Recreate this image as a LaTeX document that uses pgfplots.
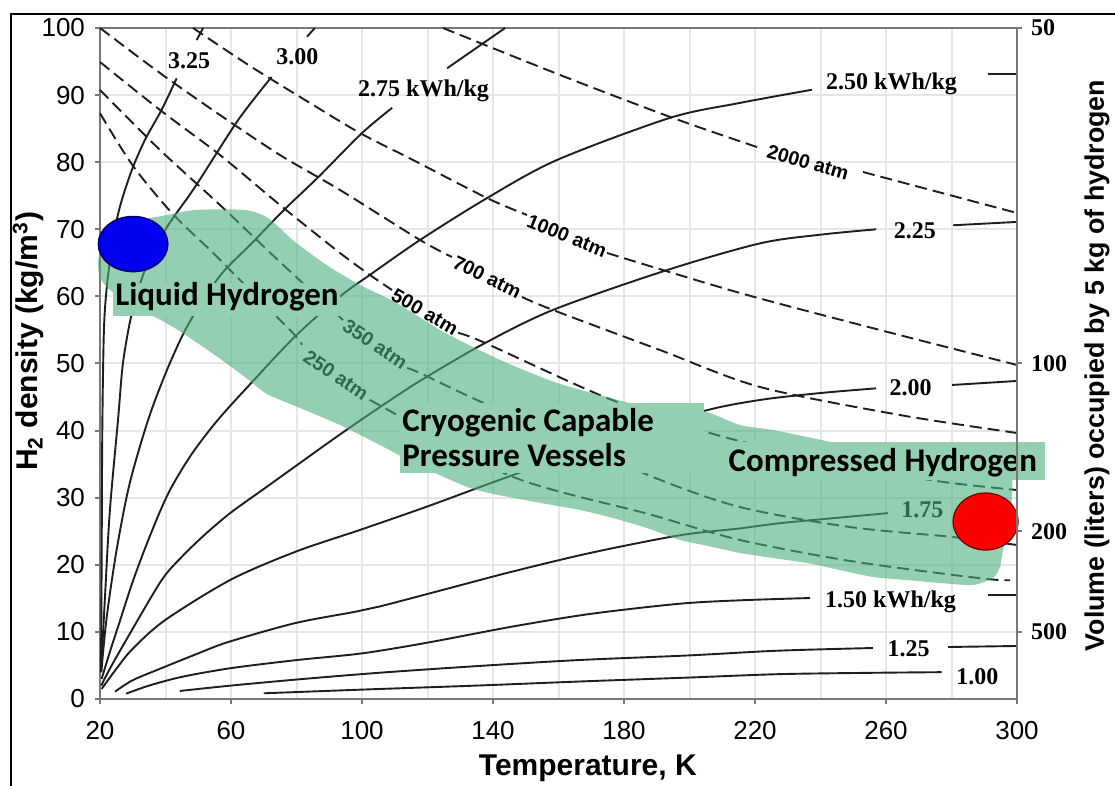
\documentclass[border=0pt]{standalone}
\usepackage{pgfplots}
\pgfplotsset{compat=1.18}
\usepackage{fontspec}
\setmainfont{Liberation Sans}
\newfontfamily\timesf{Liberation Serif}
\newfontfamily\calib{Carlito}
\definecolor{axgray}{RGB}{120,120,120}
\definecolor{gridgray}{RGB}{230,230,230}
\definecolor{curvec}{RGB}{30,30,30}
\definecolor{blobg}{RGB}{77,175,127}
\definecolor{boxg}{RGB}{148,207,178}
\definecolor{bluec}{RGB}{0,0,240}
\definecolor{redc}{RGB}{250,0,0}
\tikzset{
  sol/.style={draw=curvec, line width=0.95pt, smooth, tension=0.5},
  dsh/.style={sol, dash pattern=on 6pt off 3pt},
  kwh/.style={font=\timesf\bfseries\fontsize{12}{12}\selectfont, inner sep=0pt},
  atm/.style={font=\bfseries\fontsize{9.8}{9.8}\selectfont, inner sep=0pt},
  reg/.style={font=\calib\bfseries\fontsize{16.5}{16.5}\selectfont, inner sep=0pt},
}
\begin{document}
\begin{tikzpicture}
\path[use as bounding box] (0,0) rectangle (557.5pt,-393pt);
\fill[white] (0,0) rectangle (557.5pt,-393pt);
\draw[black,line width=1pt] (5.5pt,-393pt) -- (5.5pt,-7pt) -- (557.5pt,-7pt);
\begin{axis}[
  at={(50pt,-349.5pt)}, anchor=south west, scale only axis,
  width=458.5pt, height=335.5pt,
  xmin=20, xmax=300, ymin=0, ymax=100, clip=false,
  xtick={20,60,...,300}, minor xtick={40,80,...,280}, ytick={0,10,...,100},
  grid=both, major grid style={gridgray,line width=1pt}, minor grid style={gridgray,line width=1pt},
  tick align=outside, xtick pos=bottom, ytick pos=left,
  major tick length=2.5pt, minor tick length=0pt,
  axis line style={axgray,line width=1.2pt}, tick style={axgray,line width=1pt},
  /pgf/number format/assume math mode=true,
  ticklabel style={font=\fontsize{13}{13}\selectfont, black},
  xticklabel style={yshift=-5pt}, yticklabel style={xshift=-1.5pt},
]
% ---- energy isolines (solid) ----
% 3.25
\addplot[sol] coordinates {(20.3,4) (20.5,20) (20.7,40) (21.2,55) (22.2,62) (24,68.5) (26.1,73.4) (29.7,78.8) (33.7,83.3) (38.8,87.8) (43.4,92.5)};
\addplot[sol] coordinates {(49.5,98.2) (51.5,100)};
% 3.00
\addplot[sol] coordinates {(20.3,4) (21.5,15) (23,28) (25.5,41.6) (27,50) (29.5,57) (33,63) (37,67.5) (41.9,71.4) (49,76.3) (62.2,86.3) (72.4,92.7)};
\addplot[sol] coordinates {(83.2,98.7) (85.6,100)};
% 2.75
\addplot[sol] coordinates {(20.4,4) (22,12) (25,22) (29,32) (34.7,41.6) (40,48.5) (45,54) (49,57.5) (57,63.3) (66.3,67.9) (76,72.8) (86.7,77.8) (99.9,84.3) (109.2,88.1)};
\addplot[sol] coordinates {(126,94) (143.7,100)};
% 2.50
\addplot[sol] coordinates {(20.5,3) (23,7) (26,11.5) (30,17.5) (35,24) (40.9,30.7) (48,36.5) (56,41.6) (66,47) (79.5,54) (93.3,60) (102.4,63.2) (117.7,68.4) (138,74.6) (159.4,80.3) (194,86.6) (215,88.8) (237.4,90.8)};
\addplot[sol] coordinates {(291,93.1) (300,93.1)};
% 2.25
\addplot[sol] coordinates {(20.4,2) (23,4.5) (28.6,9.3) (38.8,17.7) (45,21.2) (52,24.5) (60,27.8) (70,31.3) (80,34.8) (90,38.3) (100,41.7) (111.6,45.5) (118.7,47.7) (137,52.9) (158.4,58) (193,63.9) (221.5,67.9) (240,69.2) (257,70.0)};
\addplot[sol] coordinates {(280.5,70.6) (300,71.1)};
% 2.00
\addplot[sol] coordinates {(20.5,1.5) (25,4.5) (30,7.5) (40,11.8) (60,17.8) (80,22) (100,25.3) (120,28.7) (140,32.3) (160,35.8) (180,39.2) (205,43.0) (222,44.6) (240,45.6) (257,46.3)};
\addplot[sol] coordinates {(280.2,46.8) (300,47.4)};
% 1.75
\addplot[sol] coordinates {(24.6,1.1) (30,2.8) (38.8,4.6) (50,6.8) (59.2,8.5) (79.5,11.3) (97.9,13.0) (105.5,13.8) (125,16.3) (146,19) (170,21.8) (197,24.4) (215,25.4) (227.6,26.2) (245,27) (260.6,27.7)};
% 1.50
\addplot[sol] coordinates {(28,0.8) (35,2.0) (45,3.3) (60,4.6) (80,5.8) (100,6.8) (120,8.4) (146,10.8) (170,12.7) (197,14.2) (215,14.7) (236.8,15.05)};
\addplot[sol] coordinates {(291.1,15.5) (300,15.5)};
% 1.25
\addplot[sol] coordinates {(44.4,1.2) (60,2.0) (80,2.9) (105,3.9) (135,4.9) (166,5.8) (200,6.5) (227,7.2) (256,7.6)};
\addplot[sol] coordinates {(279,7.75) (300,7.9)};
% 1.00
\addplot[sol] coordinates {(70,0.85) (100,1.4) (135,2.0) (166,2.6) (200,3.2) (227,3.7) (255,3.9) (277,4.0)};
% ---- isobars (dashed) ----
% 2000 atm
\addplot[dsh] coordinates {(124.73,100) (160.46,93.0) (194.96,86.59) (220.61,82.26)};
\addplot[dsh] coordinates {(252.98,78.54) (300,72.43)};
% 1000 atm
\addplot[dsh] coordinates {(48.4,100) (65.8,94.34) (84.12,88.82) (99.39,84.35) (115.57,80.33) (138.17,74.66) (150.38,72.13)};
\addplot[dsh] coordinates {(174.81,66.47) (215.42,60.51) (258.17,54.99) (300,49.78)};
% 700 atm
\addplot[dsh] coordinates {(20,100) (38.32,93.29) (56.64,87.03) (74.96,81.07) (93.28,75.86) (117.71,68.41) (127.48,65.87)};
\addplot[dsh] coordinates {(148.85,59.91) (158.32,57.97) (190.99,52.01) (221.53,46.5) (264.27,42.32) (300,39.64)};
% 500 atm
\addplot[dsh] coordinates {(20,94.93) (38.32,87.78) (56.64,81.07) (74.96,73.62) (93.28,66.47) (102.44,63.19) (109.16,60.95)};
\addplot[dsh] coordinates {(129.31,54.55) (136.95,53.2) (174.81,44.86) (206.26,39.64) (233.74,36.36) (273.44,32.64) (300,31.15)};
% 350 atm
\addplot[dsh] coordinates {(20,90.76) (38.32,81.82) (56.64,73.62) (74.96,65.13) (94.2,56.48)};
\addplot[dsh] coordinates {(113.74,49.33) (117.71,48.58) (135.11,44.56) (160.46,39.34) (188.85,33.08) (215.42,28.61) (249,25.63) (280.46,24.14) (300,22.95)};
% 250 atm
\addplot[dsh] coordinates {(20,87.3) (30,79.5) (42,72.4) (54.5,66.5) (60.6,63.5) (71,58.4) (79,54.5) (81.7,52.8)};
\addplot[dsh] coordinates {(102.4,44.6) (107.9,43.1) (146.1,33.1) (188,27.5) (215.4,23.7) (250,20.5) (288.7,18.0) (297.9,17.7)};
% ---- labels on curves ----
\node[kwh] at (47.2,95.1) {3.25};
\node[kwh] at (80.3,95.7) {3.00};
\node[kwh] at (118.8,90.6) {2.75 kWh/kg};
\node[kwh] at (261.7,91.65) {2.50 kWh/kg};
\node[kwh] at (268.85,69.75) {2.25};
\node[kwh] at (267.5,46.4) {2.00};
\node[kwh] at (271.1,28.2) {1.75};
\node[kwh] at (261.4,14.46) {1.50 kWh/kg};
\node[kwh] at (266.9,7.53) {1.25};
\node[kwh] at (287.9,3.35) {1.00};
\node[atm,rotate=-16] at (236.2,80.0) {2000 atm};
\node[atm,rotate=-22] at (162.6,69.0) {1000 atm};
\node[atm,rotate=-26] at (138.2,62.9) {700 atm};
\node[atm,rotate=-30] at (119.2,57.7) {500 atm};
\node[atm,rotate=-34] at (104.0,52.9) {350 atm};
\node[atm,rotate=-34] at (92.06,48.3) {250 atm};
% ---- green region ----
\fill[blobg, fill opacity=0.6] plot[smooth cycle, tension=0.4] coordinates {(19.39,65.13) (21.22,68.40) (26.11,70.49) (32.21,71.39) (38.93,71.98) (49.01,72.88) (64.27,72.88) (71.30,71.68) (79.54,68.11) (89.62,64.53) (100.0,61.55) (110.08,59.16) (123.82,54.99) (133.89,52.46) (144.27,50.07) (159.54,47.09) (174.81,45.01) (184.88,43.81) (203.2,43.07) (215.42,40.83) (225.5,40.09) (235.88,39.05) (249.0,37.85) (270.38,37.41) (294.81,35.62) (298.47,32.64) (297.86,26.68) (295.73,22.21) (294.81,19.67) (292.67,18.03) (286.56,16.99) (276.49,17.29) (266.41,17.73) (256.03,18.18) (245.95,19.22) (235.88,20.27) (225.5,21.01) (215.42,21.76) (207.17,22.65) (197.1,23.70) (187.02,25.48) (176.64,26.97) (166.56,28.17) (151.3,29.51) (133.89,31.30) (117.71,34.72) (105.5,37.85) (93.28,40.83) (81.07,43.37) (71.0,45.45) (64.27,47.99) (54.2,51.56) (43.82,54.99) (36.79,56.93) (29.16,58.72) (23.05,60.95) (20.0,62.74)};
\fill[boxg] (23.97,57.08) rectangle (93.28,62.0);
\fill[boxg] (111.6,33.68) rectangle (204.43,44.11);
\fill[boxg] (209.31,32.64) rectangle (308.55,38.30);
\node[reg, anchor=base west] at (24.58,58.57) {Liquid Hydrogen};
\node[reg, anchor=base west] at (112.21,39.84) {Cryogenic Capable};
\node[reg, anchor=base west] at (112.21,34.62) {Pressure Vessels};
\node[reg, anchor=base west] at (211.85,33.88) {Compressed Hydrogen};
% ---- markers ----
\filldraw[fill=bluec, draw=blue!45!black, line width=0.8pt] (30.1,67.8) ellipse [x radius=17.35pt, y radius=13.75pt];
\filldraw[fill=redc, draw=red!45!black, line width=0.6pt] (290.4,26.45) ellipse [x radius=16.25pt, y radius=14.25pt];
% ---- axis titles ----
\node[rotate=90, font=\bfseries\fontsize{15}{15}\selectfont] at (rel axis cs:-0.078,0.533) {H\textsubscript{2} density (kg/m\textsuperscript{3})};
\node[font=\bfseries\fontsize{15}{15}\selectfont] at (rel axis cs:0.532,-0.103) {Temperature, K};
\node[rotate=90, font=\bfseries\fontsize{13.4}{13.4}\selectfont] at (rel axis cs:1.0872,0.497) {Volume (liters) occupied by 5 kg of hydrogen};
\end{axis}
\begin{axis}[
  at={(50pt,-349.5pt)}, anchor=south west, scale only axis,
  width=458.5pt, height=335.5pt,
  xmin=20, xmax=300, ymin=0, ymax=100,
  axis x line=none, axis y line*=right,
  ytick={10,25,50,100}, yticklabels={500,200,100,50},
  tick align=outside, major tick length=2.5pt,
  axis line style={axgray,line width=1.2pt}, tick style={axgray,line width=1pt},
  yticklabel style={font=\timesf\bfseries\fontsize{12}{12}\selectfont, black, xshift=1pt},
]
\addplot[draw=none] coordinates {(20,0) (300,100)};
\end{axis}
\end{tikzpicture}
\end{document}
